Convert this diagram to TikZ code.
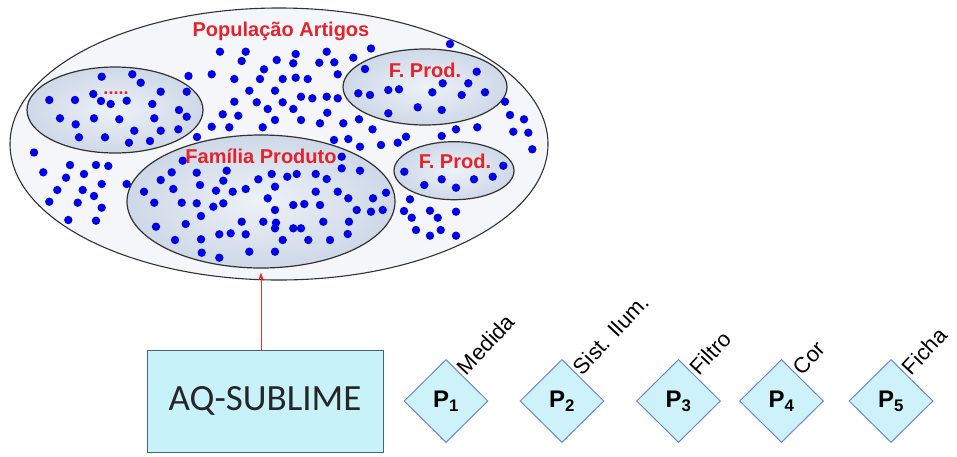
\documentclass[tikz,border=0pt]{standalone}
\usepackage{fontspec}
\setmainfont{Liberation Sans}
\newfontfamily\calib{Carlito}
\usetikzlibrary{shapes.geometric,arrows.meta}
\definecolor{lblred}{RGB}{228,35,45}
\definecolor{arrred}{RGB}{235,45,45}
\definecolor{dotblue}{RGB}{0,0,230}
\definecolor{bigfill}{RGB}{244,246,250}
\definecolor{ellin}{RGB}{238,242,248}
\definecolor{ellout}{RGB}{206,216,231}
\definecolor{edgegray}{RGB}{50,50,50}
\definecolor{boxfill}{RGB}{200,242,250}
\definecolor{boxedge}{RGB}{70,100,115}
\definecolor{diaedge}{RGB}{110,135,215}
\definecolor{diafill}{RGB}{205,242,250}
\begin{document}
\begin{tikzpicture}[x=1pt,y=-1pt,
  pop/.style={ellipse, draw=edgegray, line width=1.1pt, fill=bigfill, inner sep=0pt},
  sub/.style={ellipse, draw=edgegray, line width=1.2pt, inner sep=0pt, inner color=ellin, outer color=ellout},
  lbl/.style={text=lblred, font=\bfseries\fontsize{20}{24}\selectfont, inner sep=0pt, anchor=base},
  dot/.style={fill=dotblue},
  pbox/.style={diamond, aspect=1, draw=diaedge, line width=1pt, fill=diafill, minimum width=84pt, minimum height=83pt, inner sep=0pt, font=\bfseries\fontsize{24}{26}\selectfont},
  plabel/.style={rotate=47, anchor=south west, inner sep=2.5pt, font=\fontsize{22}{24}\selectfont},
  aqbox/.style={draw=boxedge, line width=1pt, fill=boxfill, minimum width=236pt, minimum height=102pt, inner sep=0pt, font=\calib\fontsize{37}{40}\selectfont, text=black!85},
  arr/.style={draw=arrred, line width=1pt, -{Stealth[length=8pt,width=6pt]}},
]
\useasboundingbox (0,0) rectangle (957,456);
% population
\node[pop, minimum width=538pt, minimum height=272pt] (pop) at (279,144) {};
\node[sub, minimum width=176pt, minimum height=86pt] (e1) at (115,110) {};
\node[sub, minimum width=268pt, minimum height=133pt] (fam) at (261,201.5) {};
\node[sub, minimum width=164pt, minimum height=76pt] (fp1) at (425,87) {};
\node[sub, minimum width=120pt, minimum height=58pt] (fp2) at (454,170.7) {};
% dots
\foreach \x/\y in {
101.7/76.7,132.3/74.3,140.7/82.7,93.3/94,160.7/91.7,186.7/91.7,188.5/76,49.3/100,75/100,101/101,
110.7/104,126.7/100.7,152.3/104,179/110,186.7/116.7,60/118.3,75.7/124.3,94/118.3,119.3/119.3,154.3/118.3,
134.3/130.7,160.7/130.7,178.3/129.3,79/137.3,105/137.3,129/142.7,150/141,34/152.5,
220/51.7,245.7/51.7,241.7/61,295.7/54,276.7/60,293.3/63.3,326.7/51.7,319.3/62.7,334.3/62.3,353.3/57.7,
371/48.5,365/69,211.7/74.3,234.3/79,264/69.3,260/79,282.7/79,295.7/77.7,307.7/79,337.7/74.3,
249.3/90.7,275/90.7,301/96.7,312.3/98.3,326.7/96.7,337.7/98.3,358.3/93.3,370/95,234.3/101.7,256.7/102.3,
282.7/102.3,267.7/109,293.3/109,222.7/114.3,238.3/115.7,275/120,301/120,327.3/112.7,320/123.3,343.3/123.3,
359/119.3,372.5/129.3,211.7/126.7,229.3/127.3,262.7/127.3,334/140,348.3/139,360/146.7,197/137,
450/44,476.7/71.7,442.7/83.3,468.3/83.3,388.3/90,399/89.3,432.3/92.3,461.7/95,485/92.3,417.7/107.3,
441.7/110,388.3/113.3,505/101.7,510/115,524/119.3,456/129.3,477.3/127.3,513.3/131.7,528.3/132.7,441.7/136,
406/136.7,397.7/142.7,381/145,532.3/149.3,
70/165,96/165,108.3/166,43.3/172.3,66/177.7,84/174,101.7/184,126.7/184,57.3/190,82.7/190,
94/196,49.3/201.7,77.7/202.7,101.7/207.7,68.3/220,96/220.7,144/191.7,160.7/180,171.7/172.3,182.7/160.7,
173.3/189,154.3/202.7,181.7/202.7,156/226.7,185.7/224,175/240,
341.7/156.7,196.7/172.7,226.7/170.7,223.3/180.7,200/185,216/190.7,232.7/191.7,245.7/189,258.3/179.3,271.7/174,
287.3/176.7,296.7/174,275/186.7,315.7/174,326.7/179,341.7/168.3,360/170.7,315.7/191.7,337.7/191.7,267.7/198.3,
196.7/203.3,213.3/206.7,223.3/203.3,293.3/205,304.3/204,320/205,348.3/198.3,373/198.3,275/210,201/216,
356.7/210,371/211.7,241.7/221.7,263.3/221.7,276/222.7,275/228.3,293.3/228.3,301/228.3,323.3/221.7,349/221.7,
219.3/234.3,230.7/233.3,245.7/234.3,201/239.3,282.7/240,308.3/240,330/240,347.7/234,201.7/252.7,219.3/257.7,
249.3/251.7,275/251.7,
503.3/165.7,404.3/171.7,424.3/185,441.7/179.3,456/187.7,474/179.3,492.7/176.7,386/192.7,382.7/210,410/199.3,
404/211,411.7/217.7,430/210.7,437.7/217.7,456/211.7,416/230,430/235.7,440.7/230,456/235.7}
  \fill[dot] (\x,\y) circle (4.2pt);
% labels
\node[lbl] (t0) at (281,36) {População Artigos};
\node[lbl] (t1) at (261,163) {Família Produto};
\node[lbl] (t2) at (425,77) {F. Prod.};
\node[lbl] (t3) at (455,168) {F. Prod.};
\node[text=lblred, font=\bfseries\fontsize{18}{20}\selectfont, inner sep=0pt, anchor=base] (t4) at (116,94) {.....};
% box and arrow
\node[aqbox] (aq) at (265,401) {AQ-SUBLIME};
\draw[arr, shorten >=4pt] (aq.north -| fam.south) -- (fam.south);
% parameters
\node[pbox] (p1) at (446,401) {P\textsubscript{1}};
\node[pbox] (p2) at (562,401) {P\textsubscript{2}};
\node[pbox] (p3) at (678.5,401) {P\textsubscript{3}};
\node[pbox] (p4) at (781.5,401) {P\textsubscript{4}};
\node[pbox] (p5) at (891,401) {P\textsubscript{5}};
\node[plabel] (l1) at (p1.north east) {Medida};
\node[plabel] (l2) at (p2.north east) {Sist. Ilum.};
\node[plabel] (l3) at (p3.north east) {Filtro};
\node[plabel] (l4) at (p4.north east) {Cor};
\node[plabel] (l5) at (p5.north east) {Ficha};
\end{tikzpicture}
\end{document}
